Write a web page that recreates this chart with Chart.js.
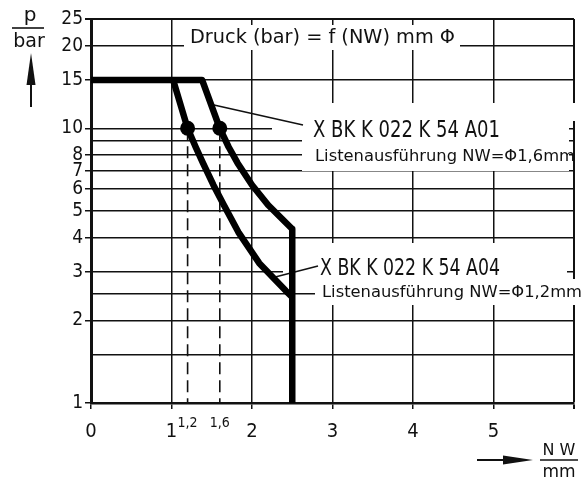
<!DOCTYPE html>
<html>
<head>
<meta charset="utf-8">
<script src="https://cdn.jsdelivr.net/npm/chart.js@4"></script>
<style>
  body { margin: 0; background: #fff; }
  canvas { display: block; }
</style>
</head>
<body>
<canvas id="myChart" width="585" height="478"></canvas>
<script>
// tick values / labels
const xTickValues = [0, 1, 2, 3, 4, 5, 6];
const xTickLabels = ['0', '1', '2', '3', '4', '5', ''];
const yTickValues = [1, 1.5, 2, 2.5, 3, 4, 5, 6, 7, 8, 9, 10, 15, 20, 25];
const yTickLabels = ['1', '', '2', '', '3', '4', '5', '6', '7', '8', '', '10', '15', '20', '25'];

// curve A01 (NW 1,6) and A04 (NW 1,2)
const a01NW = [0, 1.38, 1.6, 1.71, 1.82, 2.0, 2.2, 2.5, 2.5];
const a01P  = [15, 15, 10, 8.55, 7.48, 6.22, 5.26, 4.3, 1];
const a04NW = [1.02, 1.2, 1.3, 1.39, 1.52, 1.65, 1.83, 2.09, 2.42, 2.5];
const a04P  = [15, 10, 8.55, 7.48, 6.22, 5.26, 4.19, 3.23, 2.56, 2.43];

// marked points (NW at 10 bar)
const markNW = [1.2, 1.6];
const markP = [10, 10];
const markLabels = ['1,2', '1,6'];

const seriesNames = ['X BK K 022 K 54 A01', 'X BK K 022 K 54 A04'];
const seriesNotes = ['Listenausführung NW=Φ1,6mm', 'Listenausführung NW=Φ1,2mm'];
const title = 'Druck (bar) = f (NW) mm Φ';

const FONT = "'DejaVu Sans', sans-serif";
const TICKFONT = "'DejaVu Sans Condensed', 'DejaVu Sans', sans-serif";
const INK = '#111';

function pts(xs, ys) {
  return xs.map((x, i) => ({ x: x, y: ys[i] }));
}

// text squeezed to a given width
function fitText(ctx, str, left, base, width, size) {
  ctx.font = size + 'px ' + FONT;
  const w = ctx.measureText(str).width;
  ctx.save();
  ctx.translate(left, base);
  ctx.scale(width / w, 1);
  ctx.textAlign = 'left';
  ctx.textBaseline = 'alphabetic';
  ctx.fillText(str, 0, 0);
  ctx.restore();
}

function line(ctx, x1, y1, x2, y2, w) {
  ctx.lineWidth = w;
  ctx.beginPath();
  ctx.moveTo(x1, y1);
  ctx.lineTo(x2, y2);
  ctx.stroke();
}

const annot = {
  id: 'annot',
  beforeDatasetsDraw(chart) {
    const ctx = chart.ctx;
    const x = chart.scales.x, y = chart.scales.y;
    ctx.save();
    // blank out grid behind the labels
    ctx.fillStyle = '#fff';
    ctx.fillRect(184, 25, 276, 25);
    ctx.fillRect(272, 116, 40, 14);
    ctx.fillRect(288, 128, 20, 12);
    ctx.fillRect(302, 103, 267, 68);
    ctx.fillRect(569, 103, 16, 18);
    ctx.fillRect(283, 243, 284, 36);
    ctx.fillRect(315, 279, 270, 26);

    ctx.fillStyle = INK;
    fitText(ctx, title, 190, 43, 265, 20);
    fitText(ctx, seriesNames[0], 313, 137, 187, 23);
    fitText(ctx, seriesNotes[0], 315, 161, 260, 16);
    fitText(ctx, seriesNames[1], 320, 275, 180, 23);
    fitText(ctx, seriesNotes[1], 322, 297, 260, 16);

    // leader lines from the curves to the labels
    ctx.strokeStyle = INK;
    line(ctx, x.getPixelForValue(1.5), y.getPixelForValue(12.2), 303, 125, 1.5);
    line(ctx, x.getPixelForValue(2.24), y.getPixelForValue(2.85), 318, 266, 1.5);
    ctx.restore();
  },
  afterDraw(chart) {
    const ctx = chart.ctx;
    const x = chart.scales.x;
    ctx.save();
    ctx.fillStyle = INK;
    ctx.strokeStyle = INK;
    ctx.textAlign = 'center';
    ctx.textBaseline = 'alphabetic';

    // y axis title p / bar with arrow
    ctx.font = '20px ' + FONT;
    ctx.fillText('p', 30, 21);
    line(ctx, 12, 28, 44, 28, 1.6);
    ctx.font = '19px ' + FONT;
    ctx.fillText('bar', 29, 47);
    line(ctx, 31, 82, 31, 107, 2);
    ctx.beginPath();
    ctx.moveTo(31, 53);
    ctx.lineTo(35.5, 85);
    ctx.lineTo(26.5, 85);
    ctx.closePath();
    ctx.fill();

    // extra x labels 1,2 and 1,6
    ctx.font = '14px ' + TICKFONT;
    markNW.forEach((v, i) => {
      ctx.fillText(markLabels[i], x.getPixelForValue(v), 427);
    });

    // x axis title NW / mm with arrow
    ctx.font = '16px ' + FONT;
    ctx.fillText('N W', 559, 455);
    line(ctx, 540, 460, 578, 460, 1.6);
    ctx.font = '17px ' + FONT;
    ctx.fillText('mm', 559, 477);
    line(ctx, 477, 460, 505, 460, 2);
    ctx.beginPath();
    ctx.moveTo(533, 460);
    ctx.lineTo(503, 455.5);
    ctx.lineTo(503, 464.5);
    ctx.closePath();
    ctx.fill();
    ctx.restore();
  }
};

const ctx = document.getElementById('myChart').getContext('2d');
const chart = new Chart(ctx, {
  type: 'scatter',
  data: {
    datasets: [
      {
        label: seriesNames[0],
        data: pts(a01NW, a01P),
        showLine: true,
        borderColor: '#000',
        borderWidth: 6.5,
        borderJoinStyle: 'round',
        pointRadius: 0,
        tension: 0
      },
      {
        label: seriesNames[1],
        data: pts(a04NW, a04P),
        showLine: true,
        borderColor: '#000',
        borderWidth: 6.5,
        borderJoinStyle: 'round',
        pointRadius: 0,
        tension: 0
      },
      {
        data: [{ x: markNW[0], y: markP[0] }, { x: markNW[0], y: 1 }],
        showLine: true,
        borderColor: INK,
        borderWidth: 1.6,
        borderDash: [12, 6],
        pointRadius: 0
      },
      {
        data: [{ x: markNW[1], y: markP[1] }, { x: markNW[1], y: 1 }],
        showLine: true,
        borderColor: INK,
        borderWidth: 1.6,
        borderDash: [12, 6],
        pointRadius: 0
      },
      {
        data: pts(markNW, markP),
        showLine: false,
        pointRadius: 7.5,
        pointBackgroundColor: '#000',
        pointBorderWidth: 0
      }
    ]
  },
  options: {
    responsive: false,
    animation: false,
    events: [],
    layout: { padding: { top: 19, right: 6, left: 0, bottom: 0 } },
    plugins: { legend: { display: false }, tooltip: { enabled: false } },
    scales: {
      x: {
        type: 'linear',
        min: 0,
        max: 6,
        afterBuildTicks: s => { s.ticks = xTickValues.map(v => ({ value: v })); },
        afterFit: s => { s.height = 75; },
        ticks: {
          callback: (v, i) => xTickLabels[i],
          autoSkip: false,
          maxRotation: 0,
          padding: 11,
          color: INK,
          font: { size: 20, family: TICKFONT }
        },
        grid: {
          color: INK,
          lineWidth: c => (c.index === xTickValues.length - 1 ? 2 : 1.5),
          tickLength: 6,
          tickColor: INK
        },
        border: { color: INK, width: 2.5 }
      },
      y: {
        type: 'logarithmic',
        min: 1,
        max: 25,
        afterBuildTicks: s => { s.ticks = yTickValues.map(v => ({ value: v })); },
        afterFit: s => { s.width = 91; },
        ticks: {
          callback: (v, i) => yTickLabels[i],
          autoSkip: false,
          padding: 2,
          color: INK,
          font: { size: 19, family: TICKFONT }
        },
        grid: {
          color: INK,
          lineWidth: c => (c.index === yTickValues.length - 1 ? 2 : 1.5),
          tickLength: 6,
          tickColor: c => (yTickLabels[c.index] ? INK : 'rgba(0,0,0,0)')
        },
        border: { color: INK, width: 3 }
      }
    }
  },
  plugins: [annot]
});
</script>
</body>
</html>
